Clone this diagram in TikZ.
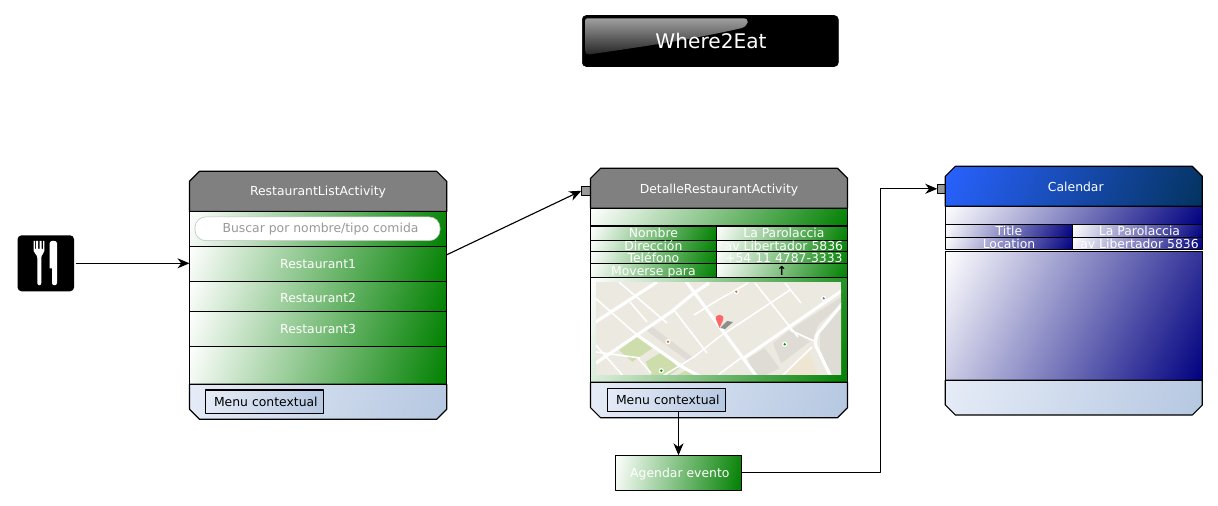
\documentclass[tikz,border=0pt]{standalone}
\usepackage{fontspec}
\setmainfont{DejaVu Sans}
\usetikzlibrary{arrows.meta}
\definecolor{grisbar}{HTML}{808080}
\definecolor{mapfondo}{HTML}{ECE9E1}
\definecolor{mapparque}{HTML}{CDDDAC}
\definecolor{mapgris}{HTML}{DFDBD5}
\definecolor{mapbeige}{HTML}{EFE5D3}
% nombre, peso vertical, rgb inicial, diferencia rgb
\newcommand{\newgrad}[8]{\pgfdeclarefunctionalshading{#1}{\pgfpoint{0bp}{0bp}}{\pgfpoint{100bp}{100bp}}{}{75 exch sub 50 div #2 mul exch 25 sub 50 div 1 #2 sub mul add dup 0 lt {pop 0} if dup 1 gt {pop 1} if dup #6 mul #3 add exch dup #7 mul #4 add exch #8 mul #5 add}}
\newgrad{gradverde}{0.05}{1}{1}{1}{-1}{-0.498}{-1}
\newgrad{gradmapa}{0.14}{1}{1}{1}{-1}{-0.498}{-1}
\newgrad{gradazul}{0.05}{1}{1}{1}{-1}{-1}{-0.498}
\newgrad{gradcuerpo}{0.2}{1}{1}{1}{-1}{-1}{-0.498}
\newgrad{gradmenu}{0.05}{0.902}{0.925}{0.969}{-0.192}{-0.145}{-0.087}
\newgrad{gradcal}{0.06}{0.161}{0.384}{1}{-0.145}{-0.184}{-0.627}
\tikzset{
  size/.style 2 args={minimum width=#1*0.75pt, minimum height=#2*0.75pt},
  box/.style={draw, line width=0.85pt, inner sep=0pt, outer sep=0pt, text height=7.2pt, text depth=0pt, font=\fontsize{9.3}{10}\selectfont},
  rowgreen/.style={box, shade, shading=gradverde, text=white},
  rowblue/.style={box, shade, shading=gradazul, text=white},
  menubox/.style={box, shade, shading=gradmenu, text=black},
  port/.style={draw, line width=0.85pt, fill=gray!80, inner sep=0pt, outer sep=0pt},
  titletext/.style={text=white, inner sep=0pt, text height=7.2pt, text depth=0pt, font=\fontsize{9.3}{10}\selectfont},
  flecha/.style={line width=0.85pt, -{Stealth[length=9pt, width=7.5pt, inset=2.8pt]}},
  street/.style={white, line width=2.4pt},
  minor/.style={white, line width=1.2pt}
}
\begin{document}
\begin{tikzpicture}[x=0.75pt, y=-0.75pt, line join=round]
	\useasboundingbox (0,0) rectangle (1218,506);

	% Boton superior
	\node[draw=black, fill=black, rounded corners=3pt, inner sep=0pt, size={256}{51}] (header) at (710.3,41) {};
	\shade[top color=gray!75, bottom color=black!85] (588,18.3) -- (743,18.3) .. controls (750,18.3) and (749,25) .. (742,28) .. controls (690,40) and (640,47) .. (590,54.3) .. controls (586,54.5) and (585,53) .. (585,50) -- (585,21) .. controls (585,19) and (586,18.3) .. (588,18.3) -- cycle;
	\node[text=white, inner sep=0pt, font=\fontsize{15.1}{16}\selectfont] (headertext) at (711,41) {Where2Eat};

	% Icono
	\node[fill=black, rounded corners=3pt, inner sep=0pt, outer sep=0pt, size={56.5}{56}] (icono) at (45.8,263.3) {};
	\fill[white] (33.7,241) -- (35,241) -- (35,249) -- (36.2,249) -- (36.2,241) -- (38.2,241) -- (38.2,249) -- (39.7,249) -- (39.7,241) -- (41.7,241) -- (41.7,249) -- (43,249) -- (43,241) -- (44.3,241) -- (44.3,251) .. controls (44.3,254) and (41.3,254) .. (41.3,258) -- (41.3,283) .. controls (41.3,286) and (37.3,286) .. (37.3,283) -- (37.3,258) .. controls (37.3,254) and (33.7,254) .. (33.7,251) -- cycle;
	\fill[white] (49.7,243) .. controls (49.7,240) and (57,240) .. (57,243) -- (57,283) .. controls (57,286) and (52,286) .. (52,283) -- (52,268.3) -- (49.7,268.3) -- cycle;

	% RestaurantListActivity
	\draw[line width=0.85pt, fill=grisbar] (189.5,211.5) -- (189.5,181.3) -- (199.5,171.3) -- (436.7,171.3) -- (446.7,181.3) -- (446.7,211.5) -- cycle;
	\node[titletext] (listtitle) at (318,190.8) {RestaurantListActivity};
	\node[rowgreen, size={257.2}{34.8}] (listsearch) at (318.1,229) {};
	\node[draw=gray!50, fill=white, rounded corners=8pt, inner sep=0pt, outer sep=0pt, size={245}{23.7}, text=gray!80, font=\fontsize{9.3}{10}\selectfont] (searchfield) at (317.5,228.8) {\hspace{4.5pt}Buscar por nombre/tipo comida};
	\node[rowgreen, size={257.2}{35}] (rowone) at (318.1,263.8) {Restaurant1};
	\node[rowgreen, size={257.2}{30}] (rowtwo) at (318.1,296.3) {\raisebox{-1.2pt}{Restaurant2}};
	\node[rowgreen, size={257.2}{35}] (rowthree) at (318.1,328.8) {Restaurant3};
	\node[rowgreen, size={257.2}{38}] (rowempty) at (318.1,365.3) {};
	\draw[line width=0.85pt, shade, shading=gradmenu] (189.5,384.3) -- (446.7,384.3) -- (446.7,409.3) -- (436.7,419.3) -- (199.5,419.3) -- (189.5,409.3) -- cycle;
	\node[menubox, size={118.4}{23.3}] (listmenu) at (264.5,401.7) {\hspace{2pt}Menu contextual};

	% DetalleRestaurantActivity
	\node[port, size={9.2}{9}] (portdetail) at (585.9,190.8) {};
	\draw[line width=0.85pt, fill=grisbar] (590.5,208.3) -- (590.5,178.3) -- (600.5,168.3) -- (837.5,168.3) -- (847.5,178.3) -- (847.5,208.3) -- cycle;
	\node[titletext] (detailtitle) at (719,188.7) {DetalleRestaurantActivity};
	\node[rowgreen, size={257}{17.7}] (detailtop) at (719,217.2) {};
	\node[rowgreen, size={125.8}{14.3}] (cellname) at (653.4,233.2) {Nombre};
	\node[rowgreen, size={131.2}{14.3}] (valname) at (781.9,233.2) {\hspace{3pt}La Parolaccia};
	\node[rowgreen, size={125.8}{11}] (celladdr) at (653.4,245.8) {Dirección};
	\node[rowgreen, size={131.2}{11}] (valaddr) at (781.9,245.8) {\hspace{3pt}av Libertador 5836};
	\node[rowgreen, size={125.8}{12.4}] (celltel) at (653.4,257.5) {Teléfono};
	\node[rowgreen, size={131.2}{12.4}] (valtel) at (781.9,257.5) {\hspace{3pt}+54 11 4787-3333};
	\node[rowgreen, size={125.8}{13.6}] (cellmove) at (653.4,270.5) {Moverse para};
	\node[rowgreen, size={131.2}{13.6}, text=black] (valmove) at (781.9,270.5) {\textbf{↑}};
	\node[box, shade, shading=gradmapa, size={257}{105}] (mapcell) at (719,329.8) {};

	% Mapa
	\begin{scope}
		\clip (596,282) rectangle (841,374.7);
		\fill[mapfondo] (596,282) rectangle (841,374.7);
		\fill[mapparque] (619,350) -- (637.3,336.7) -- (652.3,348.3) -- (632.3,361.7) -- cycle;
		\fill[mapparque] (645.7,361.7) -- (662.3,351.7) -- (679,368.3) -- (667.3,377) -- (652.3,377) -- cycle;
		\fill[mapparque] (677,375) -- (687.3,370) -- (697,377) -- cycle;
		\fill[mapgris] (645.7,330) -- (652.3,326.7) -- (694,358.3) -- (689,361.7) -- cycle;
		\fill[mapgris] (748,358.3) -- (764.7,348.3) -- (779.7,368.3) -- (761.3,377) -- (754.7,377) -- cycle;
		\fill[mapgris] (773,343.3) -- (789.7,330) -- (809.7,341.7) -- (781.3,363.3) -- cycle;
		\fill[mapbeige] (786.3,370) -- (809.7,351.7) -- (818,377) -- (783,377) -- cycle;
		\fill[mapgris] (843,296) -- (790,330) -- (812,342) -- (818,325) -- (843,302) -- cycle;
		\fill[mapgris] (843,305) -- (820,332) -- (820,350) -- (832,377) -- (843,377) -- cycle;
		% calles menores
		\draw[minor] (594,343) -- (624,377);
		\draw[minor] (619,282) -- (667,323);
		\draw[minor] (594,297) -- (637,335);
		\draw[minor] (630,302) -- (647,322);
		\draw[minor] (674,310) -- (707,353);
		\draw[minor] (637,357) -- (651,373);
		\draw[minor] (755,283) -- (798,337);
		\draw[minor] (785,283) -- (801,303);
		\draw[minor] (661,377) -- (694,357) -- (719,337) -- (790,290);
		\draw[minor] (694,315) -- (718,300) -- (748,283);
		\draw[minor] (781,377) -- (812,347);
		\draw[minor] (718,375) -- (741,358);
		\draw[minor] (790,330) -- (816,342);
		\draw[minor] (596,352) -- (640,358);
		% calles mayores
		\draw[street] (594,323) -- (657,282);
		\draw[street] (596,363) -- (637,335) -- (671,312) -- (694,293) -- (709,283);
		\draw[street] (637,335) -- (684,368) -- (701,377);
		\draw[street] (685,280) -- (757,377);
		\draw[street] (744,358) -- (843,290);
		\draw[street] (843,303) -- (818,333) .. controls (814,340) and (815,346) .. (818,350) -- (831,377);
		% puntos
		\foreach \px/\py/\pcol in {661.3/370.7/green!60!black, 668/341.7/brown, 784.7/344.3/green!60!black, 823.7/298.3/gray, 736.3/291.7/brown} {
			\fill[white] (\px,\py) circle (2pt);
			\fill[\pcol] (\px,\py) circle (1pt);
		}
		% marcador
		\fill[black!60, opacity=0.7] (720,328) -- (727,321) -- (733,322) -- (725,329) -- cycle;
		\fill[red!60!white] (719.6,328) -- (716.2,320) .. controls (713.5,313) and (725.5,313) .. (723,320) -- cycle;
	\end{scope}

	\draw[line width=0.85pt, shade, shading=gradmenu] (590.5,382.3) -- (847.5,382.3) -- (847.5,407.7) -- (837.5,417.7) -- (600.5,417.7) -- (590.5,407.7) -- cycle;
	\node[menubox, size={118.4}{23.3}] (detailmenu) at (666.5,400) {\hspace{2pt}Menu contextual};
	\node[rowgreen, size={126.4}{35}] (agendar) at (678.5,472.8) {\hspace{2pt}Agendar evento};

	% Calendar
	\node[port, size={8}{9}] (portcal) at (941.3,188.8) {};
	\draw[line width=0.85pt, shade, shading=gradcal] (945.3,206.3) -- (945.3,176.3) -- (955.3,166.3) -- (1192.3,166.3) -- (1202.3,176.3) -- (1202.3,206.3) -- cycle;
	\node[titletext] (caltitle) at (1075.8,186.5) {Calendar};
	\node[rowblue, size={257}{18}] (caltop) at (1073.8,215.3) {};
	\node[rowblue, size={127.4}{13.4}] (celltitle) at (1009,231) {Title};
	\node[rowblue, size={129.6}{13.4}] (valtitle) at (1137.5,231) {\hspace{3pt}La Parolaccia};
	\node[rowblue, size={127.4}{11.6}] (cellloc) at (1009,243.5) {Location};
	\node[rowblue, size={129.6}{11.6}] (valloc) at (1137.5,243.5) {\hspace{3pt}av Libertador 5836};
	\node[box, shade, shading=gradcuerpo, size={257}{128.6}] (calbody) at (1073.8,316) {};
	\draw[line width=0.85pt, shade, shading=gradmenu] (945.3,380.3) -- (1202.3,380.3) -- (1202.3,405) -- (1192.3,415) -- (955.3,415) -- (945.3,405) -- cycle;

	% Conectores
	\coordinate (elbow) at (880.5,188.8);
	\draw[flecha, shorten <=1.5pt] (icono.east) -- (icono.east -| rowone.west);
	\draw[flecha] (rowone.4.6) -- (portdetail.west);
	\draw[flecha] (detailmenu.south -| agendar.north) -- (agendar.north);
	\draw[flecha] (agendar.east) -| (elbow) -- (portcal.west);
\end{tikzpicture}
\end{document}
